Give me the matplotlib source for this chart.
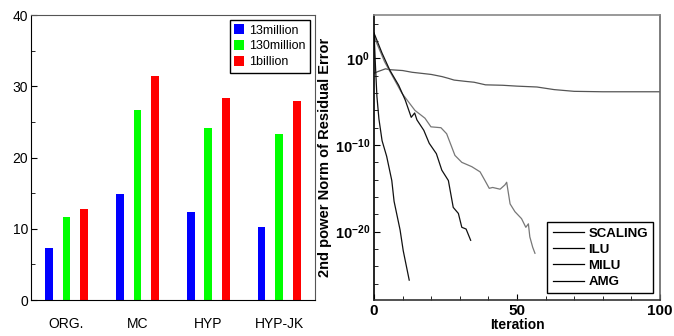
import numpy as np
import matplotlib
matplotlib.use("Agg")
import matplotlib.pyplot as plt
from matplotlib.ticker import FixedLocator, MultipleLocator, NullFormatter

plt.rcParams["font.family"] = ["Liberation Sans", "DejaVu Sans"]
plt.rcParams["mathtext.fontset"] = "custom"
plt.rcParams["mathtext.rm"] = "Liberation Sans"
plt.rcParams["mathtext.bf"] = "Liberation Sans:bold"

# left chart: bars per method and problem size
categories = ["ORG.", "MC", "HYP", "HYP-JK"]
series_names = ["13million", "130million", "1billion"]
val_13m = [7.3, 14.9, 12.3, 10.3]
val_130m = [11.6, 26.7, 24.2, 23.3]
val_1b = [12.8, 31.4, 28.4, 27.9]
bar_colors = ["#0000ff", "#00ff00", "#ff0000"]

# right chart: convergence history (iteration, log10 of residual)
scaling_it = [0, 1.5, 4, 5.5, 10, 13.3, 16, 20, 23.8, 26, 28, 32, 35, 39, 45, 50, 57, 63, 70, 80, 100]
scaling_log = [-1.7, -1.5, -1.2, -1.3, -1.4, -1.6, -1.7, -1.85, -2.1, -2.3, -2.5, -2.65, -2.75,
               -3.05, -3.1, -3.2, -3.3, -3.6, -3.8, -3.85, -3.85]

ilu_it = [0, 0.5, 3.7, 6.2, 9.7, 14.3, 17.8, 19.9, 23.4, 25.4, 28.3, 30.7, 34.2, 37.1, 38.8,
          40.3, 41.5, 44.1, 45.8, 46.4, 47.6, 49.3, 51.6, 53.1, 54.0, 54.5, 55.5, 56.3]
ilu_log = [2.9, 2.1, -0.4, -1.9, -4.0, -6.0, -6.9, -7.9, -8.0, -8.7, -11.2, -12.0, -12.5, -13.1,
           -14.1, -15.0, -14.9, -15.1, -14.6, -14.3, -16.8, -17.7, -18.5, -19.5, -19.1, -20.6,
           -21.8, -22.5]

milu_it = [0, 0.5, 2.8, 5.5, 8.6, 10.9, 13.0, 14.2, 15.0, 17.4, 19.3, 21.8, 23.7, 26.0, 27.7,
           29.5, 30.7, 32.2, 33.8]
milu_log = [2.9, 2.5, 0.6, -1.35, -3.1, -4.8, -6.8, -6.3, -7.1, -8.3, -9.8, -11.0, -12.9, -14.1,
            -17.2, -17.9, -19.5, -19.7, -21.0]

amg_it = [0, 0.5, 1.0, 1.7, 2.8, 4.4, 6.2, 7.0, 9.1, 10.2, 12.3]
amg_log = [2.9, -1.0, -4.4, -7.0, -9.5, -11.3, -14.1, -16.5, -19.8, -22.2, -25.6]

line_names = ["SCALING", "ILU", "MILU", "AMG"]
line_colors = ["#555555", "#777777", "#111111", "#111111"]

fig = plt.figure(figsize=(6.74, 3.36), dpi=100)

# ---- bar chart
ax1 = fig.add_axes([0.046, 0.107, 0.421, 0.848])
x = np.arange(len(categories))
for i, (vals, name, col) in enumerate(zip([val_13m, val_130m, val_1b], series_names, bar_colors)):
    ax1.bar(x + (i - 1) * 0.25, vals, width=0.11, color=col, label=name)

ax1.set_xlim(-0.5, 3.5)
ax1.set_ylim(0, 40)
ax1.set_yticks([0, 10, 20, 30, 40])
ax1.yaxis.set_minor_locator(MultipleLocator(5))
ax1.tick_params(axis="y", which="both", direction="in", labelsize=10, pad=2, length=4)
ax1.tick_params(axis="y", which="minor", length=3)
ax1.set_xticks(x)
ax1.set_xticklabels(categories, fontsize=10)
ax1.tick_params(axis="x", length=0, pad=12)
for side in ["left", "bottom"]:
    ax1.spines[side].set_color("black")
for side in ["top", "right"]:
    ax1.spines[side].set_color("#555555")

leg1 = ax1.legend(loc="upper right", fontsize=9, handlelength=0.8, handleheight=0.8,
                  handletextpad=0.4, labelspacing=0.3, borderaxespad=0.4, borderpad=0.35,
                  fancybox=False, edgecolor="black", framealpha=1)
leg1.get_frame().set_linewidth(1.0)

# ---- convergence chart
ax2 = fig.add_axes([0.555, 0.107, 0.424, 0.848])
for it, lg, name, col in zip([scaling_it, ilu_it, milu_it, amg_it],
                             [scaling_log, ilu_log, milu_log, amg_log],
                             line_names, line_colors):
    ax2.plot(it, 10.0 ** np.array(lg), color=col, lw=0.9, label=name)

ax2.set_yscale("log")
ax2.set_xlim(0, 100)
ax2.set_ylim(10 ** -27.9, 1e5)
ax2.yaxis.set_major_locator(FixedLocator([1e-20, 1e-10, 1e0]))
ax2.set_yticklabels([r"$\mathbf{10^{-20}}$", r"$\mathbf{10^{-10}}$", r"$\mathbf{10^{0}}$"])
ax2.yaxis.set_minor_locator(FixedLocator([10.0 ** k for k in range(-26, 5, 2)]))
ax2.yaxis.set_minor_formatter(NullFormatter())
ax2.set_xticks([0, 50, 100])
ax2.set_xticklabels(["0", "50", "100"], fontweight="bold", fontsize=11)
ax2.xaxis.set_minor_locator(MultipleLocator(10))
ax2.tick_params(which="both", direction="in", labelsize=10.5, pad=3)
ax2.tick_params(axis="x", labelsize=11)
ax2.tick_params(which="major", length=4)
ax2.tick_params(which="minor", length=3)
ax2.set_xlabel("Iteration", fontsize=10, fontweight="bold", labelpad=0)
ax2.set_ylabel("2nd power Norm of Residual Error", fontsize=10.5, fontweight="bold", labelpad=2)
ax2.spines["left"].set_color("black")
ax2.spines["bottom"].set_color("#333333")
ax2.spines["top"].set_color("#888888")
ax2.spines["right"].set_color("#666666")
for s in ax2.spines.values():
    s.set_linewidth(1.2)

leg2 = ax2.legend(loc="lower right", handlelength=2.4, handletextpad=0.3,
                  labelspacing=0.3, borderaxespad=0.5, fancybox=False,
                  edgecolor="black", framealpha=1, prop={"weight": "bold", "size": 9.5})
for h in leg2.get_lines():
    h.set_color("black")
leg2.get_frame().set_linewidth(1.0)

fig.savefig("out.png", dpi=100)
